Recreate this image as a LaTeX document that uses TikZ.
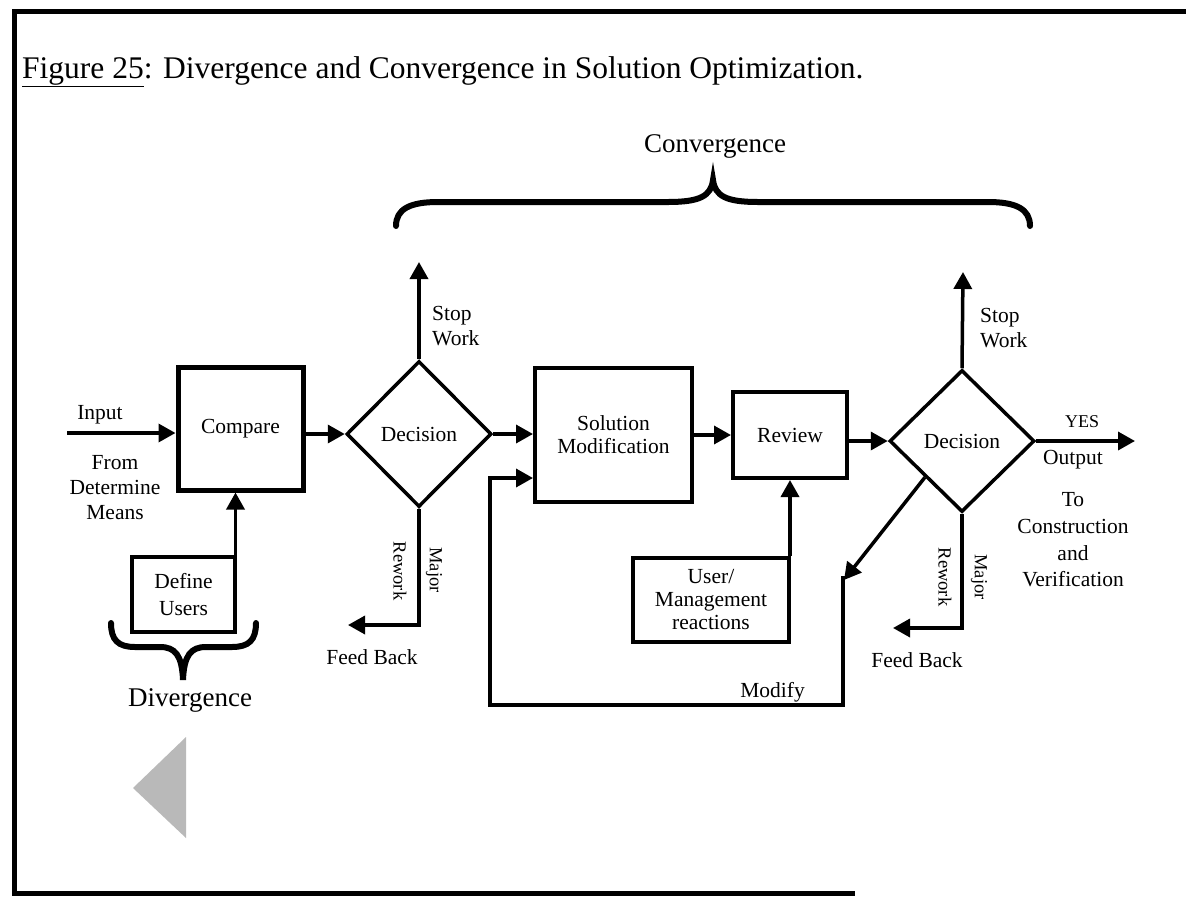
\documentclass[tikz,border=0pt]{standalone}
\usepackage{fontspec}
\setmainfont{Liberation Serif}
\usetikzlibrary{arrows.meta,shapes.geometric}

\begin{document}
\begin{tikzpicture}[x=1pt,y=-1pt,
  every node/.style={inner sep=0pt},
  lbl/.style={font=\fontsize{21.5}{25}\selectfont, align=center},
  small/.style={font=\fontsize{18.5}{21}\selectfont},
  big/.style={font=\fontsize{27}{31}\selectfont},
  box/.style={draw, line width=4pt, align=center, font=\fontsize{21.5}{23}\selectfont},
  decide/.style={draw, diamond, aspect=1, line width=3.5pt, font=\fontsize{21.5}{23}\selectfont},
  conn/.style={line width=3.5pt, -{Triangle[length=17pt,width=18pt]}},
  brace/.style={line width=6pt, line cap=round}
]
\useasboundingbox (0,0) rectangle (1186,900);

% frame
\draw[line width=5pt] (1186,11) -- (14,11) -- (14,893) -- (855,893);

% caption
\node[anchor=base west, font=\fontsize{31.5}{35}\selectfont] (title) at (22,78)
  {\underline{Figure 25}: Divergence and Convergence in Solution Optimization.};

% process blocks
\node[box, line width=5pt, minimum width=125pt, minimum height=123pt] (cmp) at (240.5,428.5) {Compare};
\node[decide, minimum width=145pt, minimum height=146pt] (d1) at (419,434) {Decision};
\node[box, minimum width=157pt, minimum height=134pt] (sm) at (613.5,435) {Solution\\Modification};
\node[box, minimum width=114pt, minimum height=86pt] (rv) at (790,435) {Review};
\node[decide, minimum width=145pt, minimum height=142pt] (d2) at (962,441) {Decision};
\node[box, minimum width=103pt, minimum height=75pt] (du) at (183.5,594.5) {Define\\[4pt]Users};
\node[box, minimum width=156pt, minimum height=84pt] (um) at (711,600) {User/\\Management\\reactions};

% free ends of connectors
\coordinate (inp) at (67,433);
\coordinate (stop1) at (419,262);
\coordinate (stop2) at (963,272);
\coordinate (fb1) at (348,625);
\coordinate (fb2) at (893,628);
\coordinate (out) at (1135,441);
\coordinate (mod1) at (844,580);
\coordinate (mtop) at (843,576);
\coordinate (mc) at (843,705);
\coordinate (lc) at (490,705);
\coordinate (lt) at (490,478);

% connectors
\draw[conn] (inp) -- (inp -| cmp.west);
\draw[conn] (cmp.east |- d1.west) -- (d1.west);
\draw[conn] (d1.east) -- (d1.east -| sm.west);
\draw[conn] (sm.east) -- (rv.west);
\draw[conn] (rv.east |- d2.west) -- (d2.west);
\draw[conn] (d2.east) -- (out);
\draw[conn] (d1.north) -- (stop1);
\draw[conn] (d2.north) -- (stop2);
\draw[conn] (d1.south) |- (fb1);
\draw[conn] (d2.south) |- (fb2);
\draw[conn] ([xshift=-1.5pt]du.north east) -- ([xshift=-1.5pt]du.north east |- cmp.south);
\draw[conn] ([xshift=-1pt]um.north east) -- ([xshift=-1pt]um.north east |- rv.south);
\draw[conn] (d2.south west) -- (mod1);
\draw[conn] (mtop) -- (mc) -- (lc) -- (lt) -- (lt -| sm.west);

% connector labels
\node[lbl] (linput) at (100,415) {Input};
\node[lbl] (lfrom) at (115,488) {From\\Determine\\Means};
\node[lbl, anchor=west, align=left] (lstop1) at (432,326) {Stop\\Work};
\node[lbl, anchor=west, align=left] (lstop2) at (980,328) {Stop\\Work};
\node[small, rotate=-90] (lrw1) at (400,571) {Rework};
\node[small, rotate=-90] (lmj1) at (434,570) {Major};
\node[small, rotate=-90] (lrw2) at (945,577) {Rework};
\node[small, rotate=-90] (lmj2) at (979,577) {Major};
\node[lbl] (lfb1) at (372,657) {Feed Back};
\node[lbl] (lfb2) at (917,660) {Feed Back};
\node[font=\fontsize{18}{20}\selectfont] (lyes) at (1082,422) {YES};
\node[lbl] (lout) at (1073,460) {Output};
\node[lbl, font=\fontsize{21.5}{26.7}\selectfont] (lto) at (1073,540) {To\\Construction\\and\\Verification};
\node[lbl, anchor=east] (lmod) at (805,692) {Modify};

% convergence brace and label
\draw[brace] (396,226) .. controls (396,209) and (410,202) .. (438,202) -- (668,202)
  .. controls (700,202) and (711,196) .. (713,180)
  .. controls (715,196) and (726,202) .. (758,202) -- (988,202)
  .. controls (1016,202) and (1030,209) .. (1030,226);
\node[big] (lconv) at (715,146) {Convergence};

% divergence brace and label
\draw[brace] (111,623) .. controls (111,640) and (118,647) .. (135,647) -- (160,647)
  .. controls (175,647) and (182,655) .. (183,680)
  .. controls (184,655) and (191,647) .. (206,647) -- (232,647)
  .. controls (249,647) and (256,640) .. (256,623);
\node[big] (ldiv) at (190,700) {Divergence};

% grey pointer
\fill[gray!55] (133,788) -- (186,737) -- (186,838) -- cycle;
\end{tikzpicture}
\end{document}
